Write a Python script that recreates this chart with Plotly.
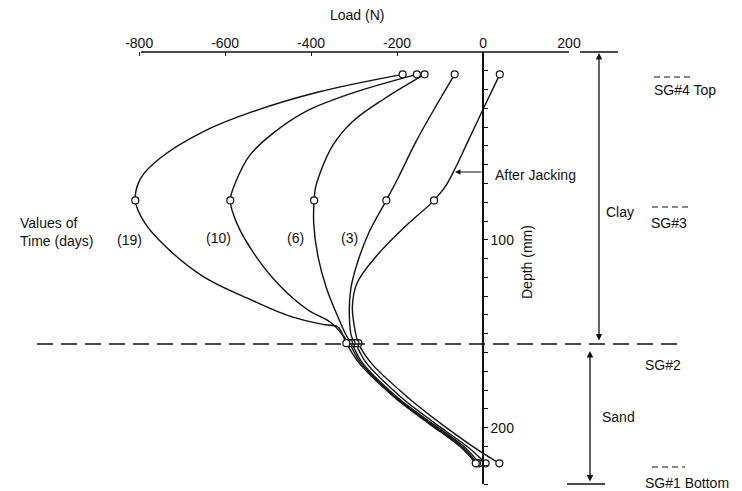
import plotly.graph_objects as go

# ---------------- data ----------------
x_ticks = [-800, -600, -400, -200, 0, 200]
x_tick_text = ["-800", "-600", "-400", "-200", "0", "200"]
y_tick_labels = {100: "100", 200: "200", 230: "230"}

gauge_depth = [11.9, 79, 155, 219]          # SG#4, SG#3, SG#2, SG#1 (mm)

gauge_load_aj = [39, -114, -290, 38]
gauge_load_3 = [-66, -225, -297, 6]
gauge_load_6 = [-136, -393, -306, -9]
gauge_load_10 = [-154, -588, -312, -14]
gauge_load_19 = [-187, -809, -318, -17]

depth_aj = [11.9, 30.5, 48.0, 62.5, 71.0, 79, 92.9, 108.9, 123.0, 135.5, 147.9, 155, 165.4, 183.5, 197.3, 210.6, 219]
load_aj = [39, 0, -36, -66, -86, -114, -181, -249, -293, -304, -298, -290, -261, -177, -101, -20, 38]

depth_3 = [11.9, 28.2, 47.7, 67.2, 79, 96.4, 114.2, 126.6, 140.8, 151.4, 155, 165.4, 183.5, 197.3, 210.6, 219]
load_3 = [-66, -108, -156, -198, -225, -266, -295, -308, -311, -306, -297, -272, -192, -114, -34, 6]

depth_6 = [11.9, 24.6, 37.1, 49.5, 63.7, 72.5, 79, 91.1, 108.9, 126.6, 140.8, 151.4, 155, 165.4, 183.5, 197.3, 210.6, 219]
load_6 = [-136, -228, -304, -349, -378, -390, -393, -394, -384, -363, -338, -317, -306, -281, -201, -121, -42, -9]

depth_10 = [11.9, 22.0, 31.7, 43.3, 54.8, 69.0, 79, 91.1, 108.9, 124.8, 137.2, 144.3, 155, 165.4, 183.5, 197.3, 210.6, 219]
load_10 = [-154, -306, -413, -489, -542, -575, -588, -573, -528, -471, -408, -353, -312, -285, -205, -126, -47, -14]

depth_19 = [11.9, 21.3, 31.9, 42.6, 56.4, 67.0, 79, 91.0, 103.7, 119.7, 131.9, 140.9, 145.2, 146.3, 155, 165.4, 183.5, 197.3, 210.6, 219]
load_19 = [-187, -383, -538, -653, -751, -796, -809, -787, -738, -650, -540, -446, -368, -338, -318, -289, -208, -129, -51, -17]

series = [
    ("After Jacking", load_aj, depth_aj, gauge_load_aj),
    ("(3)", load_3, depth_3, gauge_load_3),
    ("(6)", load_6, depth_6, gauge_load_6),
    ("(10)", load_10, depth_10, gauge_load_10),
    ("(19)", load_19, depth_19, gauge_load_19),
]

X_RANGE = [-840, 200]
Y_RANGE = [230, 0]

# ---------------- layout geometry ----------------
W, H = 742, 491
PL, PR, PT, PB = 122, 569, 52, 484


def fx(px):
    return (px - PL) / (PR - PL)


def fy(py):
    return (PB - py) / (PB - PT)


INK = "#111111"
FONT = "Liberation Sans, Arial, sans-serif"

fig = go.Figure()

for name, xs, ys, g in series:
    fig.add_trace(go.Scatter(
        x=xs, y=ys, mode="lines", name=name,
        line=dict(color=INK, width=1.4, shape="spline", smoothing=1.0),
        showlegend=False, hoverinfo="skip"))
for name, xs, ys, g in series:
    fig.add_trace(go.Scatter(
        x=g, y=gauge_depth, mode="markers", name=name,
        marker=dict(symbol="circle", size=7, color="white",
                    line=dict(color=INK, width=1.2)),
        showlegend=False, cliponaxis=False))

y_tickvals = list(range(10, 231, 10))
y_ticktext = [y_tick_labels.get(v, "") for v in y_tickvals]
zero_pos = (0 - X_RANGE[0]) / (X_RANGE[1] - X_RANGE[0])

fig.update_layout(
    width=W, height=H,
    margin=dict(l=PL, r=W - PR, t=PT, b=H - PB),
    paper_bgcolor="white", plot_bgcolor="white",
    font=dict(family=FONT, size=14, color=INK),
    xaxis=dict(range=X_RANGE, side="top", showline=False,
               ticks="inside", ticklen=4, tickcolor=INK, tickwidth=1.2,
               tickvals=x_ticks, ticktext=x_tick_text, showgrid=False,
               zeroline=False, tickfont=dict(size=14)),
    yaxis=dict(range=Y_RANGE, anchor="free", position=zero_pos, side="right",
               showline=True, linecolor=INK, linewidth=1.5, ticks="outside",
               ticklen=4, tickcolor=INK, tickvals=y_tickvals,
               ticktext=y_ticktext, showgrid=False, zeroline=False,
               tickfont=dict(size=14)),
)

ann = []


def text(px, py, s, xanchor="center", size=14, align="center", angle=0):
    ann.append(dict(x=fx(px), y=fy(py), xref="paper", yref="paper", text=s,
                    showarrow=False, xanchor=xanchor, yanchor="middle",
                    align=align, textangle=angle,
                    font=dict(size=size, family=FONT, color=INK)))


text(357, 15, "Load (N)")
text(527, 262, "Depth (mm)", angle=-90)
text(493, 175, "After Jacking", xanchor="left")
text(18, 232, "Values of<br>Time (days)", xanchor="left", align="left")
text(129, 240, "(19)")
text(218, 238, "(10)")
text(295, 238, "(6)")
text(349, 238, "(3)")
text(620, 212, "Clay")
text(600, 417, "Sand", xanchor="left")
text(652, 90, "SG#4 Top", xanchor="left")
text(649, 223, "SG#3", xanchor="left")
text(643, 365, "SG#2", xanchor="left")
text(643, 483, "SG#1 Bottom", xanchor="left")

# double arrows (Clay, Sand)
for xpx, ytop, ybot in [(599, 53, 342), (590, 351, 483)]:
    ann.append(dict(x=fx(xpx), y=fy(ytop), xref="paper", yref="paper",
                    ax=0, ay=ybot - ytop, axref="pixel", ayref="pixel",
                    text="", showarrow=True, arrowside="end+start",
                    arrowhead=2, arrowsize=1, arrowwidth=1.3,
                    arrowcolor=INK, standoff=0, startstandoff=0))
# After Jacking pointer
ann.append(dict(x=fx(455), y=fy(172), xref="paper", yref="paper",
                ax=28, ay=0, text="", showarrow=True, arrowhead=2,
                arrowsize=1, arrowwidth=1.1, arrowcolor=INK, standoff=0))

shapes = []
# top load axis line (from -800 to 200)
shapes.append(dict(type="line", xref="paper", yref="paper",
                   x0=fx(141), x1=fx(569), y0=1, y1=1,
                   line=dict(color=INK, width=1.3)))
# SG#2 boundary dashed line
shapes.append(dict(type="line", xref="paper", yref="paper",
                   x0=fx(37), x1=fx(683), y0=fy(344), y1=fy(344),
                   line=dict(color=INK, width=1.3, dash="16px,8px")))
# short dash marks above SG labels
for x0, x1, py in [(654, 694, 77), (652, 690, 207), (652, 685, 467)]:
    shapes.append(dict(type="line", xref="paper", yref="paper",
                       x0=fx(x0), x1=fx(x1), y0=fy(py), y1=fy(py),
                       line=dict(color=INK, width=1.1, dash="6px,4px")))
# caps of the layer arrows
for x0, x1, py in [(580, 618, 52), (567, 605, 484)]:
    shapes.append(dict(type="line", xref="paper", yref="paper",
                       x0=fx(x0), x1=fx(x1), y0=fy(py), y1=fy(py),
                       line=dict(color=INK, width=1.3)))

fig.update_layout(annotations=ann, shapes=shapes)

fig.write_html("out.html")
